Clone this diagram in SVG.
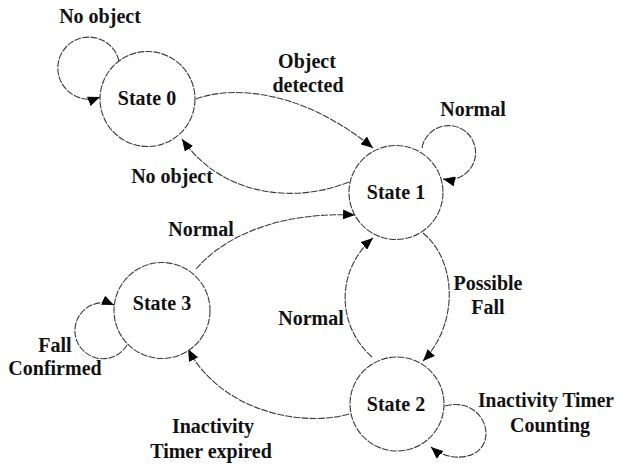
<svg xmlns="http://www.w3.org/2000/svg" width="617" height="466" viewBox="0 0 617 466">
<style>
.st{fill:#fff;stroke:#3a3a3a;stroke-width:1.1;stroke-dasharray:7 1.2}
.c{fill:none;stroke:#3a3a3a;stroke-width:1.1;stroke-dasharray:7 1.2}
text{font-family:"Liberation Serif","Times New Roman",serif;font-weight:bold;font-size:20px;fill:#111}
.m{text-anchor:middle}
</style>
<defs>
<marker id="ah" markerUnits="userSpaceOnUse" markerWidth="14" markerHeight="10" refX="12" refY="5" orient="auto">
<path d="M0,0 L12,5 L0,10 Z" fill="#000"/>
</marker>
</defs>
<rect width="617" height="466" fill="#fff"/>
<g id="connectors">
<path class="c" d="M196,99 C230,86 300,88 373,148" marker-end="url(#ah)"/>
<path class="c" d="M349,182 C300,202 225,200 182,139" marker-end="url(#ah)"/>
<path class="c" d="M196,269 C230,230 290,212 355,215" marker-end="url(#ah)"/>
<path class="c" d="M372,357 C336,325 336,270 373,238" marker-end="url(#ah)"/>
<path class="c" d="M423,233 C458,262 458,325 423,361" marker-end="url(#ah)"/>
<path class="c" d="M349,414 C300,428 220,410 188,349" marker-end="url(#ah)"/>
<path class="c" d="M119,61 A31,31 0 1 0 100,97" marker-end="url(#ah)"/>
<path class="c" d="M422,148 A27,27 0 1 1 443,179" marker-end="url(#ah)"/>
<path class="c" d="M127,345 A28,28 0 1 1 114,305" marker-end="url(#ah)"/>
<path class="c" d="M445,406 C475,398 492,425 484,443 C477,460 448,462 431,447" marker-end="url(#ah)"/>
</g>
<g id="state0"><circle class="st" cx="147.5" cy="99" r="47.5"/><text class="m" x="147" y="105">State 0</text></g>
<g id="state1"><circle class="st" cx="396" cy="192.5" r="47"/><text class="m" x="396" y="199">State 1</text></g>
<g id="state2"><circle class="st" cx="397" cy="404" r="47"/><text class="m" x="396" y="411">State 2</text></g>
<g id="state3"><circle class="st" cx="162" cy="310.5" r="48"/><text class="m" x="162" y="310">State 3</text></g>
<g id="labels">
<text class="m" x="100" y="23">No object</text>
<text class="m" x="307" y="68">Object</text>
<text class="m" x="308" y="92">detected</text>
<text class="m" x="172" y="183">No object</text>
<text class="m" x="473" y="116">Normal</text>
<text class="m" x="201" y="236">Normal</text>
<text class="m" x="311" y="325">Normal</text>
<text class="m" x="488" y="290">Possible</text>
<text class="m" x="488" y="314">Fall</text>
<text class="m" x="55" y="352">Fall</text>
<text class="m" x="55" y="375">Confirmed</text>
<text class="m" x="213" y="433">Inactivity</text>
<text class="m" x="211" y="458">Timer expired</text>
<text x="478" y="407" textLength="136" lengthAdjust="spacingAndGlyphs">Inactivity Timer</text>
<text class="m" x="550" y="432">Counting</text>
</g>
</svg>
